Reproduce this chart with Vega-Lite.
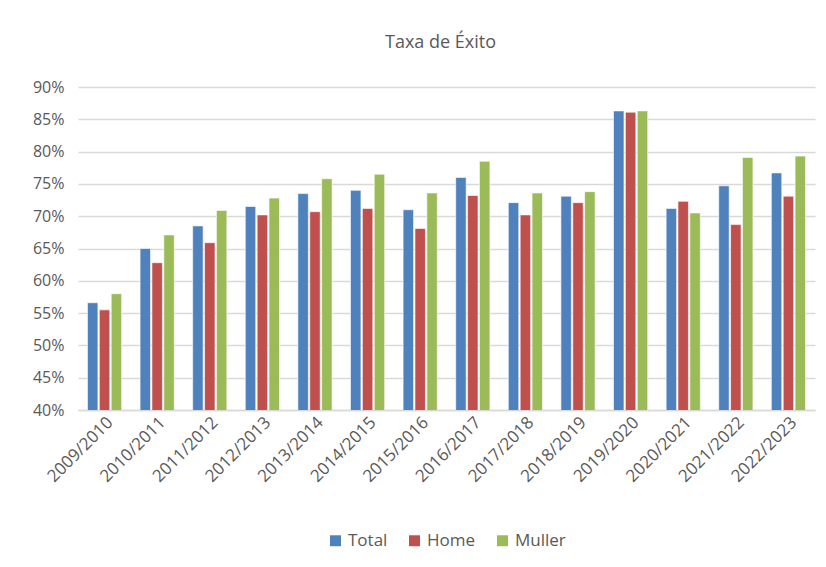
{
  "$schema": "https://vega.github.io/schema/vega-lite/v6.json",
  "width": 737,
  "height": 323,
  "autosize": {"type": "none"},
  "padding": {"left": 78, "top": 87, "right": 11, "bottom": 157},
  "background": "white",
  "title": {"text": "Taxa de Éxito", "font": "Open Sans", "fontSize": 18, "fontWeight": "normal", "color": "#595959", "offset": 27, "anchor": "middle", "dx": -6},
  "data": {"values": [
    {"year": "2009/2010", "s": "Total", "v": 0.566}, {"year": "2009/2010", "s": "Home", "v": 0.555}, {"year": "2009/2010", "s": "Muller", "v": 0.580},
    {"year": "2010/2011", "s": "Total", "v": 0.650}, {"year": "2010/2011", "s": "Home", "v": 0.628}, {"year": "2010/2011", "s": "Muller", "v": 0.671},
    {"year": "2011/2012", "s": "Total", "v": 0.685}, {"year": "2011/2012", "s": "Home", "v": 0.659}, {"year": "2011/2012", "s": "Muller", "v": 0.709},
    {"year": "2012/2013", "s": "Total", "v": 0.715}, {"year": "2012/2013", "s": "Home", "v": 0.702}, {"year": "2012/2013", "s": "Muller", "v": 0.728},
    {"year": "2013/2014", "s": "Total", "v": 0.735}, {"year": "2013/2014", "s": "Home", "v": 0.707}, {"year": "2013/2014", "s": "Muller", "v": 0.758},
    {"year": "2014/2015", "s": "Total", "v": 0.740}, {"year": "2014/2015", "s": "Home", "v": 0.712}, {"year": "2014/2015", "s": "Muller", "v": 0.765},
    {"year": "2015/2016", "s": "Total", "v": 0.710}, {"year": "2015/2016", "s": "Home", "v": 0.681}, {"year": "2015/2016", "s": "Muller", "v": 0.736},
    {"year": "2016/2017", "s": "Total", "v": 0.760}, {"year": "2016/2017", "s": "Home", "v": 0.732}, {"year": "2016/2017", "s": "Muller", "v": 0.785},
    {"year": "2017/2018", "s": "Total", "v": 0.721}, {"year": "2017/2018", "s": "Home", "v": 0.702}, {"year": "2017/2018", "s": "Muller", "v": 0.736},
    {"year": "2018/2019", "s": "Total", "v": 0.731}, {"year": "2018/2019", "s": "Home", "v": 0.721}, {"year": "2018/2019", "s": "Muller", "v": 0.738},
    {"year": "2019/2020", "s": "Total", "v": 0.863}, {"year": "2019/2020", "s": "Home", "v": 0.861}, {"year": "2019/2020", "s": "Muller", "v": 0.863},
    {"year": "2020/2021", "s": "Total", "v": 0.712}, {"year": "2020/2021", "s": "Home", "v": 0.723}, {"year": "2020/2021", "s": "Muller", "v": 0.705},
    {"year": "2021/2022", "s": "Total", "v": 0.747}, {"year": "2021/2022", "s": "Home", "v": 0.687}, {"year": "2021/2022", "s": "Muller", "v": 0.791},
    {"year": "2022/2023", "s": "Total", "v": 0.767}, {"year": "2022/2023", "s": "Home", "v": 0.731}, {"year": "2022/2023", "s": "Muller", "v": 0.793}
  ]},
  "mark": {"type": "bar", "stroke": "white", "strokeWidth": 0.6, "clip": true},
  "encoding": {
    "x": {"field": "year", "type": "nominal", "title": null, "sort": null,
      "scale": {"paddingInner": 0.35, "paddingOuter": 0.18},
      "axis": {"labelAngle": -45, "labelAlign": "right", "labelBaseline": "top", "labelFont": "Open Sans", "labelFontSize": 17, "labelColor": "#595959", "ticks": false, "domainColor": "#d9d9d9", "domainWidth": 1.5, "labelPadding": 4, "grid": false}},
    "xOffset": {"field": "s", "type": "nominal", "sort": ["Total", "Home", "Muller"], "scale": {"paddingInner": 0.12}},
    "y": {"field": "v", "type": "quantitative", "title": null,
      "scale": {"domain": [0.4, 0.9], "nice": false, "zero": false},
      "axis": {"format": ".0%", "values": [0.4, 0.45, 0.5, 0.55, 0.6, 0.65, 0.7, 0.75, 0.8, 0.85, 0.9], "labelFont": "Open Sans", "labelFontSize": 16, "labelColor": "#595959", "ticks": false, "domain": false, "gridColor": "#d9d9d9", "gridWidth": 1.3, "labelPadding": 14}},
    "color": {"field": "s", "type": "nominal", "sort": ["Total", "Home", "Muller"],
      "scale": {"domain": ["Total", "Home", "Muller"], "range": ["#4F81BD", "#C0504D", "#9BBB59"]},
      "legend": {"orient": "bottom", "direction": "horizontal", "title": null, "symbolType": "square", "symbolSize": 120, "symbolStrokeWidth": 0, "labelFont": "Open Sans", "labelFontSize": 17, "labelColor": "#595959", "columnPadding": 18, "offset": 47}}
  },
  "config": {"view": {"stroke": null}, "legend": {"layout": {"bottom": {"anchor": "middle"}}}}
}
